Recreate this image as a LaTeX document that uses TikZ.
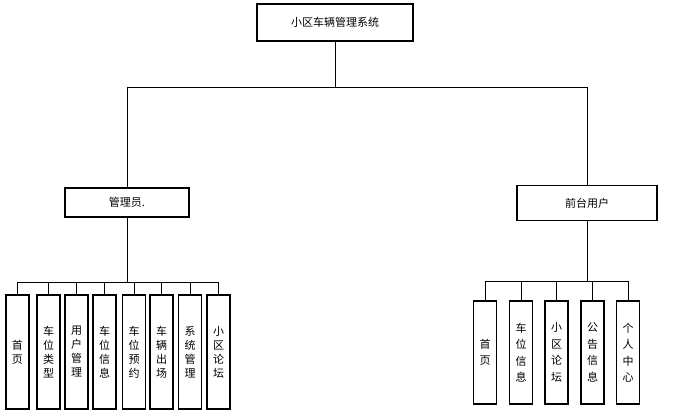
\documentclass[tikz,border=0pt]{standalone}
\usepackage{fontspec}
\newfontfamily\cjk{Noto Sans CJK SC}
\usetikzlibrary{positioning}
\tikzstyle{hbox}=[rectangle, draw=black, line width=1.1pt, inner sep=0pt,
  font=\cjk\fontsize{11}{12}\selectfont, text centered]
\tikzstyle{leafL}=[rectangle, draw=black, line width=1.1pt, inner sep=0pt,
  minimum width=23pt, minimum height=114pt, align=center,
  font=\cjk\fontsize{11}{14}\selectfont]
\tikzstyle{leafR}=[rectangle, draw=black, line width=1.1pt, inner sep=0pt,
  minimum width=23pt, minimum height=103pt, align=center,
  font=\cjk\fontsize{11}{16.5}\selectfont]
\tikzstyle{link}=[line width=0.8pt, color=black]

\begin{document}
\begin{tikzpicture}[x=1pt, y=-1pt]
        \useasboundingbox (0,0) rectangle (683,417);
        % top level
        \node[hbox, minimum width=156pt, minimum height=37pt] (sys) at (335,22.5)
          {小区车辆管理系统};
        \node[hbox, minimum width=124pt, minimum height=29pt] (admin) at (127,202.5)
          {管理员.};
        \node[hbox, minimum width=140pt, minimum height=35pt] (user) at (587,203)
          {前台用户};
        \coordinate (j0) at (335,87);
        \draw[link] (sys.south) -- (j0);
        \draw[link] (admin.north) -- (admin.north |- j0) -- (user.north |- j0) -- (user.north);

        % administrator functions
        \node[leafL] (a1) at (17.5,352) {首\\页};
        \node[leafL] (a2) at (48.5,352) {车\\位\\类\\型};
        \node[leafL] (a3) at (76.5,352) {用\\户\\管\\理};
        \node[leafL] (a4) at (104.5,352) {车\\位\\信\\息};
        \node[leafL] (a5) at (134,352) {车\\位\\预\\约};
        \node[leafL] (a6) at (161.5,352) {车\\辆\\出\\场};
        \node[leafL] (a7) at (190,352) {系\\统\\管\\理};
        \node[leafL] (a8) at (218.5,352) {小\\区\\论\\坛};
        \coordinate (j1) at (127,282);
        \draw[link] (admin.south) -- (j1);
        \draw[link] (a1.north |- j1) -- (a8.north |- j1);
        \draw[link] (a1.north) -- (a1.north |- j1);
        \draw[link] (a2.north) -- (a2.north |- j1);
        \draw[link] (a3.north) -- (a3.north |- j1);
        \draw[link] (a4.north) -- (a4.north |- j1);
        \draw[link] (a5.north) -- (a5.north |- j1);
        \draw[link] (a6.north) -- (a6.north |- j1);
        \draw[link] (a7.north) -- (a7.north |- j1);
        \draw[link] (a8.north) -- (a8.north |- j1);

        % front-end user functions
        \node[leafR] (u1) at (485,352.5) {首\\页};
        \node[leafR] (u2) at (521,352.5) {车\\位\\信\\息};
        \node[leafR] (u3) at (556.5,352.5) {小\\区\\论\\坛};
        \node[leafR] (u4) at (592.5,352.5) {公\\告\\信\\息};
        \node[leafR] (u5) at (628,352.5) {个\\人\\中\\心};
        \coordinate (j2) at (587,281);
        \draw[link] (user.south) -- (j2);
        \draw[link] (u1.north |- j2) -- (u5.north |- j2);
        \draw[link] (u1.north) -- (u1.north |- j2);
        \draw[link] (u2.north) -- (u2.north |- j2);
        \draw[link] (u3.north) -- (u3.north |- j2);
        \draw[link] (u4.north) -- (u4.north |- j2);
        \draw[link] (u5.north) -- (u5.north |- j2);
      \end{tikzpicture}
\end{document}
